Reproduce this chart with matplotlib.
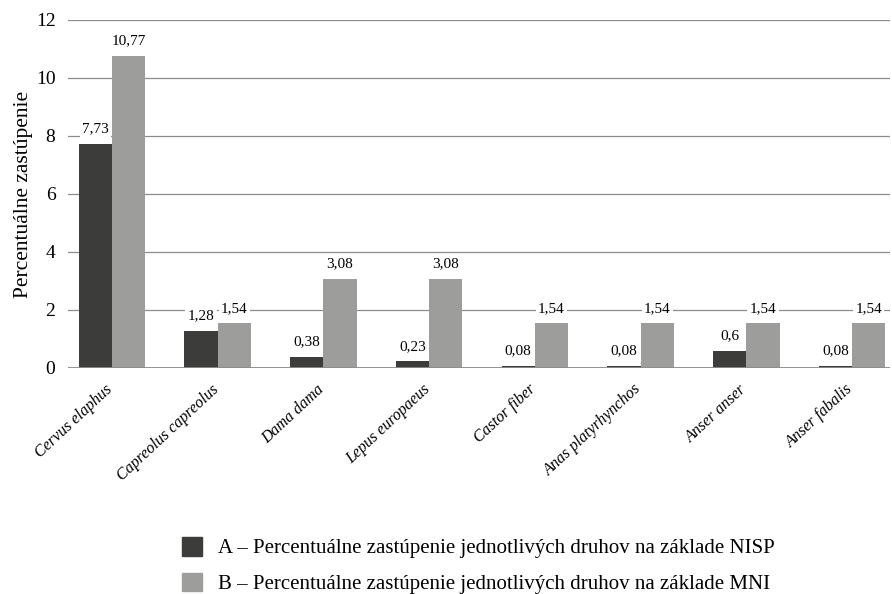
import matplotlib.pyplot as plt
import matplotlib.transforms as mtransforms
import numpy as np
from matplotlib.patches import Patch

plt.rcParams['font.family'] = ['Liberation Serif', 'DejaVu Serif']

species = ['Cervus elaphus', 'Capreolus capreolus', 'Dama dama', 'Lepus europaeus',
           'Castor fiber', 'Anas platyrhynchos', 'Anser anser', 'Anser fabalis']
nisp = [7.73, 1.28, 0.38, 0.23, 0.08, 0.08, 0.6, 0.08]
mni = [10.77, 1.54, 3.08, 3.08, 1.54, 1.54, 1.54, 1.54]
legend_labels = ['A – Percentuálne zastúpenie jednotlivých druhov na základe NISP',
                 'B – Percentuálne zastúpenie jednotlivých druhov na základe MNI']

DARK = '#3c3c3b'
LIGHT = '#9d9d9c'
GRID = '#8c8c8c'


def fmt(v):
    return ('%g' % v).replace('.', ',')


fig = plt.figure(figsize=(8.92, 5.94), dpi=100)
ax = fig.add_axes([68 / 892, 1 - 368 / 594, (890 - 68) / 892, (368 - 20) / 594])

x = np.arange(len(species))
w = 0.315
b1 = ax.bar(x - w / 2, nisp, w, color=DARK, zorder=3)
b2 = ax.bar(x + w / 2, mni, w, color=LIGHT, zorder=3)

for bars, vals in ((b1, nisp), (b2, mni)):
    for r, v in zip(bars, vals):
        ax.annotate(fmt(v), (r.get_x() + r.get_width() / 2, r.get_height()),
                    xytext=(0, 6), textcoords='offset points', ha='center', va='bottom',
                    fontsize=11, zorder=4,
                    bbox=dict(boxstyle='square,pad=0.15', fc='white', ec='none'))

ax.set_ylim(0, 12)
ax.set_xlim(-0.416, 7.36)
ax.set_yticks(range(0, 13, 2))
ax.tick_params(axis='y', length=0, labelsize=14, pad=9)
ax.tick_params(axis='x', length=0, pad=6)
ax.set_xticks(x)
ax.set_xticklabels(species, rotation=43, ha='right', rotation_mode='anchor',
                   fontsize=11.5, style='italic')
# nudge the rotated labels a bit left and down
shift = mtransforms.ScaledTranslation(-7 / 100, -5 / 100, fig.dpi_scale_trans)
for lab in ax.get_xticklabels():
    lab.set_transform(lab.get_transform() + shift)
ax.yaxis.grid(True, color=GRID, linewidth=0.9, zorder=0)
ax.set_axisbelow(True)
for s in ax.spines.values():
    s.set_visible(False)
ax.axhline(0, color=GRID, linewidth=1.3, zorder=4)
ax.set_ylabel('Percentuálne zastúpenie', fontsize=15.5, labelpad=2)

handles = [Patch(color=DARK), Patch(color=LIGHT)]
fig.legend(handles, legend_labels, loc='upper left', bbox_to_anchor=(182 / 892, 1 - 537 / 594),
           frameon=False, fontsize=15, handlelength=0.95, handleheight=1.0,
           handletextpad=0.8, labelspacing=0.68, borderpad=0, borderaxespad=0)

fig.savefig('out.png', dpi=100)
